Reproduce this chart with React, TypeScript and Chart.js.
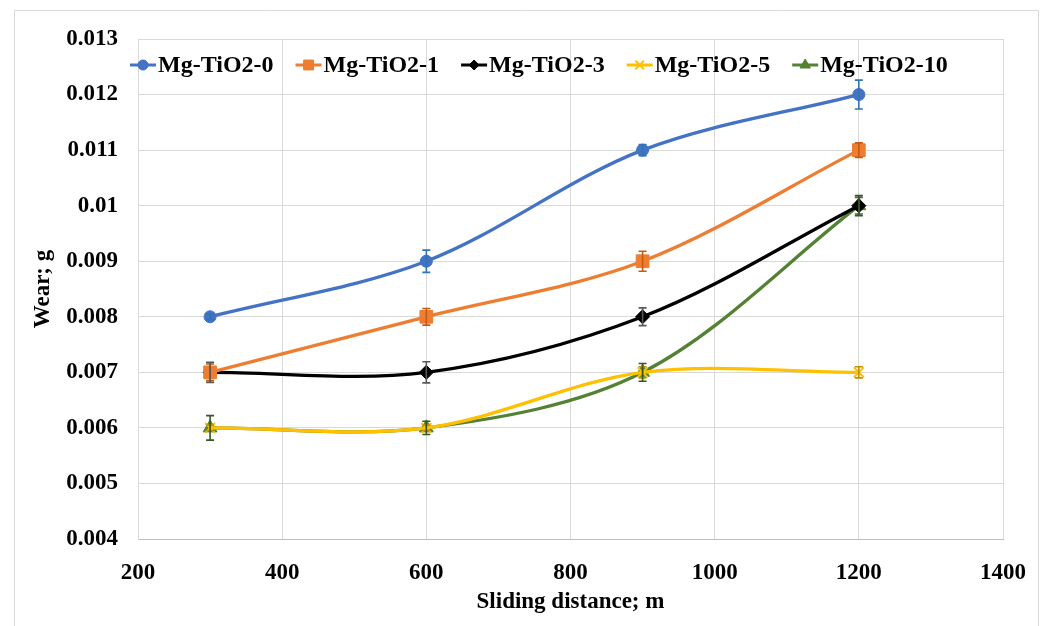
import React, { useEffect, useRef } from "react";
import { Chart, registerables } from "chart.js";
import { drawPoint } from "chart.js/helpers";

Chart.register(...registerables);

const xValues = [300, 600, 900, 1200];
const seriesNames = ["Mg-TiO2-0", "Mg-TiO2-1", "Mg-TiO2-3", "Mg-TiO2-5", "Mg-TiO2-10"];
const wear0 = [0.008, 0.009, 0.011, 0.012];
const wear1 = [0.007, 0.008, 0.009, 0.011];
const wear3 = [0.007, 0.007, 0.008, 0.01];
const wear5 = [0.006, 0.006, 0.007, 0.007];
const wear10 = [0.006, 0.006, 0.007, 0.01];
const err0 = [0.00005, 0.0002, 0.0001, 0.00026];
const err1 = [0.00015, 0.00015, 0.00018, 0.00013];
const err3 = [0.00018, 0.00019, 0.00016, 0.00015];
const err5 = [0.00005, 0.00005, 0.0001, 0.0001];
const err10 = [0.00022, 0.00012, 0.00016, 0.00018];
const xTicks = [200, 400, 600, 800, 1000, 1200, 1400];
const yTicks = [0.004, 0.005, 0.006, 0.007, 0.008, 0.009, 0.01, 0.011, 0.012, 0.013];

const colors = ["#4472C4", "#ED7D31", "#000000", "#FFC000", "#548235"];
const errColors = ["#2E75B6", "#C55A11", "#595959", "#BF9000", "#375623"];
const pointStyles = ["circle", "rect", "rectRot", "crossRot", "triangle"];
const pointRadii = [6, 9, 7, 7, 8];
const legendRadii = [5, 7, 5, 6, 6];

const FONT = "'Liberation Serif', 'Times New Roman', serif";

const errorBarPlugin = {
  id: "errorBars",
  afterDatasetsDraw(chart: any) {
    const ctx = chart.ctx;
    const xs = chart.scales.x;
    const ys = chart.scales.y;
    chart.data.datasets.forEach((ds: any, i: number) => {
      const errs = ds.errors as number[];
      ctx.save();
      ctx.strokeStyle = errColors[i];
      ctx.lineWidth = 1.6;
      ds.data.forEach((p: any, j: number) => {
        const x = xs.getPixelForValue(p.x);
        const y1 = ys.getPixelForValue(p.y - errs[j]);
        const y2 = ys.getPixelForValue(p.y + errs[j]);
        ctx.beginPath();
        ctx.moveTo(x, y1);
        ctx.lineTo(x, y2);
        ctx.moveTo(x - 4, y1);
        ctx.lineTo(x + 4, y1);
        ctx.moveTo(x - 4, y2);
        ctx.lineTo(x + 4, y2);
        ctx.stroke();
      });
      ctx.restore();
    });
  },
};

const frameLegendPlugin = {
  id: "frameLegend",
  beforeDraw(chart: any) {
    const ctx = chart.ctx;
    ctx.save();
    ctx.fillStyle = "#ffffff";
    ctx.fillRect(0, 0, chart.width, chart.height);
    ctx.strokeStyle = "#d9d9d9";
    ctx.lineWidth = 1;
    ctx.beginPath();
    ctx.moveTo(14.5, 640);
    ctx.lineTo(14.5, 10.5);
    ctx.lineTo(1038.5, 10.5);
    ctx.lineTo(1038.5, 640);
    ctx.stroke();
    ctx.restore();
  },
  afterDraw(chart: any) {
    const ctx = chart.ctx;
    ctx.save();
    ctx.font = `bold 24px ${FONT}`;
    ctx.textBaseline = "middle";
    let x = 130;
    const y = 65;
    seriesNames.forEach((name, i) => {
      ctx.strokeStyle = colors[i];
      ctx.lineWidth = 3;
      ctx.beginPath();
      ctx.moveTo(x, y);
      ctx.lineTo(x + 26, y);
      ctx.stroke();
      ctx.fillStyle = colors[i];
      ctx.lineWidth = i === 3 ? 2 : 1;
      drawPoint(
        ctx,
        { pointStyle: pointStyles[i], radius: legendRadii[i], rotation: 0, borderWidth: i === 3 ? 2 : 1 } as any,
        x + 13,
        y
      );
      ctx.fillStyle = "#000000";
      ctx.fillText(name, x + 28, y + 1);
      const w = ctx.measureText(name).width;
      x += 28 + w + 22;
    });
    ctx.restore();
  },
};

export default function App() {
  const canvasRef = useRef<HTMLCanvasElement>(null);

  useEffect(() => {
    const series = [wear0, wear1, wear3, wear5, wear10];
    const errs = [err0, err1, err3, err5, err10];
    const datasets = series.map((vals, i) => ({
      label: seriesNames[i],
      data: vals.map((v, j) => ({ x: xValues[j], y: v })),
      errors: errs[i],
      borderColor: colors[i],
      backgroundColor: colors[i],
      borderWidth: 3.3,
      pointStyle: pointStyles[i],
      pointRadius: pointRadii[i],
      pointBorderWidth: i === 3 ? 2 : 1,
      pointBorderColor: colors[i],
      pointBackgroundColor: colors[i],
      tension: 0.33,
      cubicInterpolationMode: "default",
      fill: false,
    }));

    const chart = new Chart(canvasRef.current as HTMLCanvasElement, {
      type: "line",
      data: { datasets } as any,
      options: {
        animation: false,
        responsive: false,
        devicePixelRatio: 1,
        layout: { padding: { left: 14, top: 39, right: 39, bottom: 8 } },
        plugins: {
          legend: { display: false },
          tooltip: { enabled: false },
        },
        scales: {
          x: {
            type: "linear",
            min: 200,
            max: 1400,
            afterBuildTicks: (scale: any) => {
              scale.ticks = xTicks.map((v) => ({ value: v }));
            },
            afterFit: (scale: any) => {
              scale.height = 79;
            },
            grid: { color: "#d9d9d9", lineWidth: 1, drawTicks: false },
            border: { color: "#bfbfbf" },
            ticks: {
              padding: 20,
              color: "#000000",
              font: { family: FONT, size: 23, weight: "bold" },
              callback: (v: any) => String(v),
            },
            title: {
              display: true,
              text: "Sliding distance; m",
              color: "#000000",
              font: { family: FONT, size: 23, weight: "bold" },
              padding: { top: 0, bottom: 2 },
            },
          },
          y: {
            type: "linear",
            min: 0.004,
            max: 0.013,
            afterBuildTicks: (scale: any) => {
              scale.ticks = yTicks.map((v) => ({ value: v }));
            },
            afterFit: (scale: any) => {
              scale.width = 124;
            },
            grid: { color: "#d9d9d9", lineWidth: 1, drawTicks: false },
            border: { color: "#d9d9d9" },
            ticks: {
              padding: 20,
              color: "#000000",
              font: { family: FONT, size: 23, weight: "bold" },
              callback: (v: any) => String(Number(Number(v).toFixed(3))),
            },
            title: {
              display: true,
              text: "Wear; g",
              color: "#000000",
              font: { family: FONT, size: 23, weight: "bold" },
              padding: { top: 15, bottom: 0 },
            },
          },
        },
      },
      plugins: [frameLegendPlugin, errorBarPlugin],
    } as any);

    return () => chart.destroy();
  }, []);

  return (
    <div style={{ position: "absolute", left: 0, top: 0, width: 1046, height: 626 }}>
      <canvas ref={canvasRef} width={1046} height={626} />
    </div>
  );
}
